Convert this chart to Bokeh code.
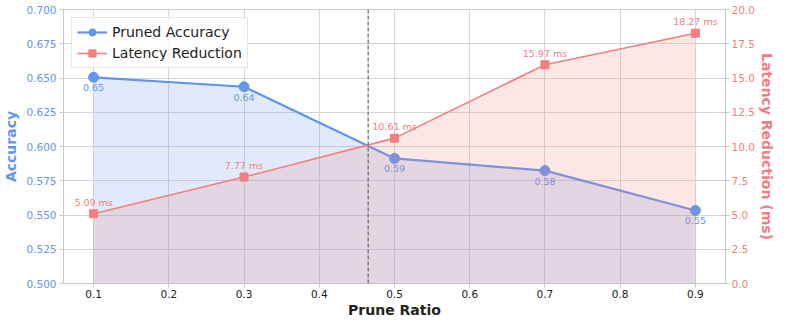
from bokeh.plotting import figure
from bokeh.models import Range1d, LinearAxis, Span, Legend, LegendItem, ColumnDataSource, FixedTicker, PrintfTickFormatter
from bokeh.embed import file_html
from bokeh.resources import INLINE
from bokeh.core.properties import value

# ---- data ----
prune_ratio = [0.1, 0.3, 0.5, 0.7, 0.9]
accuracy = [0.6505, 0.6436, 0.5913, 0.5824, 0.5533]
latency_ms = [5.09, 7.77, 10.61, 15.97, 18.27]
crossover_ratio = 0.465
x_ticks = [0.1, 0.2, 0.3, 0.4, 0.5, 0.6, 0.7, 0.8, 0.9]
acc_ticks = [0.5, 0.525, 0.55, 0.575, 0.6, 0.625, 0.65, 0.675, 0.7]
lat_ticks = [0.0, 2.5, 5.0, 7.5, 10.0, 12.5, 15.0, 17.5, 20.0]

BLUE = "#6495ED"
RED = "#F08080"
FONT = "DejaVu Sans"
GRIDC = "#d6d6d6"
AXC = "#c8c8c8"

src = ColumnDataSource(dict(
    x=prune_ratio,
    acc=accuracy,
    lat=latency_ms,
    acc_lbl=[f"{v:.2f}" for v in accuracy],
    lat_lbl=[f"{v:.2f} ms" for v in latency_ms],
))

p = figure(width=777, height=320, output_backend="svg", toolbar_location=None,
           x_range=Range1d(0.06, 0.94), y_range=Range1d(0.5, 0.7),
           min_border_left=40, min_border_right=30, min_border_top=9, min_border_bottom=26)
p.extra_y_ranges = {"lat": Range1d(0, 20)}

# accuracy
p.varea(x="x", y1=0.5, y2="acc", source=src, fill_color=BLUE, fill_alpha=0.2)
acc_line = p.line(x="x", y="acc", source=src, line_color=BLUE, line_width=2.2)
acc_pts = p.scatter(x="x", y="acc", source=src, marker="circle", size=10,
                    fill_color=BLUE, line_color=BLUE)
p.text(x="x", y="acc", text="acc_lbl", source=src, text_color=BLUE,
       text_font=value(FONT), text_font_size="9.5px", text_align="center",
       text_baseline="top", y_offset=7)

# latency
p.varea(x="x", y1=0, y2="lat", source=src, fill_color=RED, fill_alpha=0.2,
        y_range_name="lat")
lat_line = p.line(x="x", y="lat", source=src, line_color=RED, line_width=1.6,
                  y_range_name="lat")
lat_pts = p.scatter(x="x", y="lat", source=src, marker="square", size=8,
                    fill_color=RED, line_color=RED, y_range_name="lat")
p.text(x="x", y="lat", text="lat_lbl", source=src, text_color=RED,
       text_font=value(FONT), text_font_size="9.5px", text_align="center",
       text_baseline="bottom", y_offset=-6, y_range_name="lat")

p.add_layout(Span(location=crossover_ratio, dimension="height", line_color="#666666",
                  line_dash="4 2", line_width=1.2))

# axes
p.xaxis.ticker = FixedTicker(ticks=x_ticks)
p.yaxis.ticker = FixedTicker(ticks=acc_ticks)
p.yaxis.formatter = PrintfTickFormatter(format="%.3f")
p.xaxis.formatter = PrintfTickFormatter(format="%.1f")
p.xaxis.axis_label = "Prune Ratio"
p.yaxis.axis_label = "Accuracy"

rax = LinearAxis(y_range_name="lat", ticker=FixedTicker(ticks=lat_ticks),
                 formatter=PrintfTickFormatter(format="%.1f"),
                 axis_label="Latency Reduction (ms)")
p.add_layout(rax, "right")

for ax, col in [(p.xaxis[0], "#222222"), (p.yaxis[0], BLUE), (rax, RED)]:
    ax.axis_line_color = AXC
    ax.major_tick_line_color = AXC
    ax.minor_tick_line_color = None
    ax.major_tick_out = 4
    ax.major_tick_in = 0
    ax.major_label_standoff = 3
    ax.axis_label_standoff = 4
    ax.major_label_text_font = FONT
    ax.major_label_text_font_size = "10.5px"
    ax.major_label_text_color = col
    ax.axis_label_text_font = FONT
    ax.axis_label_text_font_size = "14px"
    ax.axis_label_text_font_style = "bold"
    ax.axis_label_text_color = col

p.xaxis.axis_label_standoff = 1
p.xaxis.major_label_standoff = 2
rax.axis_label_standoff = 1
rax.major_label_standoff = 2
p.xgrid.grid_line_color = GRIDC
p.ygrid.grid_line_color = GRIDC
p.outline_line_color = AXC

legend = Legend(items=[
    LegendItem(label="Pruned Accuracy", renderers=[acc_line, acc_pts]),
    LegendItem(label="Latency Reduction", renderers=[lat_line, lat_pts]),
], location="top_left")
legend.label_text_font = FONT
legend.label_text_font_size = "14px"
legend.label_text_color = "#222222"
legend.border_line_color = "#d0d0d0"
legend.background_fill_alpha = 0.85
legend.glyph_width = 30
legend.label_height = 18
legend.glyph_height = 18
legend.spacing = 3
legend.padding = 5
legend.margin = 8
p.add_layout(legend)

open("out.html", "w").write(file_html(p, INLINE))
